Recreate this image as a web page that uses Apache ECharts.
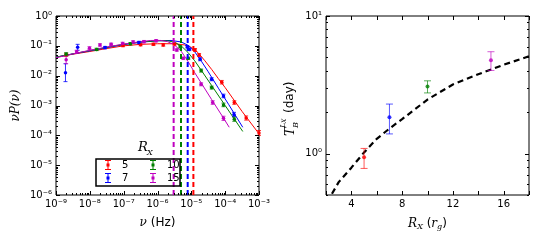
<!DOCTYPE html>
<html><head><meta charset="utf-8">
<script src="https://cdn.jsdelivr.net/npm/echarts@6/dist/echarts.min.js"></script>
<style>html,body{margin:0;padding:0;background:#fff}#c{width:540px;height:240px}</style>
</head><body><div id="c"></div>
<script>
// ---------- LEFT PANEL (values as log10) ----------
const legendNames = ['5', '7', '10', '15'];
const colors = ['#ff0000', '#0000ff', '#008000', '#bf00bf'];
const breakFreqs = [1.15e-5, 7.8e-6, 4.95e-6, 3.0e-6];

const redCurveLogNu = [-9, -8.5, -8, -7.5, -7, -6.5, -6, -5.5, -5.2, -5, -4.8, -4.6, -4.4, -4.2, -4, -3.5, -3];
const redCurveLogP  = [-1.38, -1.28, -1.19, -1.09, -1.00, -0.95, -0.93, -0.93, -0.97, -1.05, -1.23, -1.50, -1.79, -2.10, -2.40, -3.20, -3.95];
const blueCurveLogNu = [-9, -8.5, -8, -7.5, -7, -6.5, -6, -5.6, -5.3, -5.1, -4.9, -4.7, -4.5, -4.2, -3.9, -3.48];
const blueCurveLogP  = [-1.38, -1.27, -1.17, -1.06, -0.96, -0.88, -0.83, -0.82, -0.87, -0.98, -1.20, -1.52, -1.87, -2.42, -2.96, -3.73];
const greenCurveLogNu = [-9, -8.5, -8, -7.5, -7, -6.5, -6, -5.7, -5.5, -5.3, -5.1, -4.9, -4.7, -4.4, -4.0, -3.48];
const greenCurveLogP  = [-1.38, -1.27, -1.16, -1.05, -0.95, -0.87, -0.83, -0.83, -0.88, -1.00, -1.22, -1.50, -1.83, -2.33, -3.00, -3.87];
const magCurveLogNu = [-9, -8.5, -8, -7.5, -7, -6.5, -6.2, -5.9, -5.7, -5.5, -5.3, -5.1, -4.9, -4.7, -4.4, -4.1, -3.88];
const magCurveLogP  = [-1.40, -1.27, -1.15, -1.04, -0.94, -0.86, -0.82, -0.82, -0.86, -0.97, -1.18, -1.52, -1.90, -2.26, -2.80, -3.33, -3.73];

const redPtLogNu = [-8.70, -7.02, -6.50, -6.12, -5.83, -5.50, -4.89, -4.77, -4.10, -3.73, -3.38, -3.00];
const redPtLogP  = [-1.30, -0.99, -0.96, -0.95, -0.97, -0.94, -1.14, -1.31, -2.22, -2.90, -3.42, -3.92];
const redPtErr   = [0.05, 0.04, 0.04, 0.04, 0.04, 0.04, 0.05, 0.05, 0.06, 0.06, 0.07, 0.08];
const bluePtLogNu = [-8.72, -8.36, -7.55, -6.55, -5.12, -5.06, -4.74, -4.40, -4.05, -3.74];
const bluePtLogP  = [-1.90, -1.05, -1.06, -0.89, -1.03, -1.12, -1.45, -2.12, -2.68, -3.30];
const bluePtErr   = [0.30, 0.10, 0.04, 0.04, 0.04, 0.04, 0.05, 0.05, 0.06, 0.07];
const greenPtLogNu = [-8.70, -7.80, -6.80, -5.33, -5.09, -4.71, -4.40, -4.05, -3.73];
const greenPtLogP  = [-1.28, -1.12, -0.93, -1.03, -1.42, -1.83, -2.40, -2.98, -3.46];
const greenPtErr   = [0.05, 0.04, 0.04, 0.04, 0.04, 0.05, 0.05, 0.06, 0.07];
const magPtLogNu = [-8.70, -8.39, -8.01, -7.70, -7.37, -7.03, -6.72, -6.40, -6.04, -5.43, -5.24, -4.71, -4.37, -4.05];
const magPtLogP  = [-1.47, -1.20, -1.08, -0.97, -0.95, -0.92, -0.87, -0.86, -0.83, -1.14, -1.42, -2.29, -2.90, -3.43];
const magPtErr   = [0.13, 0.05, 0.05, 0.04, 0.04, 0.04, 0.04, 0.04, 0.04, 0.04, 0.04, 0.05, 0.06, 0.07];

// ---------- RIGHT PANEL ----------
const rx   = [5, 7, 10, 15];
const tb   = [0.94, 1.84, 3.07, 4.77];
const tbLo = [0.78, 1.39, 2.76, 4.02];
const tbHi = [1.09, 2.29, 3.38, 5.50];
const fitRx = [2.47, 3, 4, 5, 6, 7, 8, 10, 12, 14, 16, 18];
const fitTb = [0.51, 0.62, 0.79, 1.02, 1.28, 1.52, 1.78, 2.47, 3.18, 3.77, 4.42, 5.10];

// ---------- helpers ----------
const P = v => Math.pow(10, v);
const curves = [[redCurveLogNu, redCurveLogP], [blueCurveLogNu, blueCurveLogP], [greenCurveLogNu, greenCurveLogP], [magCurveLogNu, magCurveLogP]];
const pts = [[redPtLogNu, redPtLogP, redPtErr], [bluePtLogNu, bluePtLogP, bluePtErr], [greenPtLogNu, greenPtLogP, greenPtErr], [magPtLogNu, magPtLogP, magPtErr]];
const SUP = {'0':'⁰','1':'¹','2':'²','3':'³','4':'⁴','5':'⁵','6':'⁶','7':'⁷','8':'⁸','9':'⁹','-':'⁻'};
function powLabel(v) {
  const e = Math.log10(v);
  const r = Math.round(e);
  if (Math.abs(e - r) > 1e-6) return '';
  return '10' + String(r).split('').map(c => SUP[c]).join('');
}
const labelFont = {fontFamily: 'DejaVu Sans', fontSize: 10, color: '#000'};

function errRender(capHalf, alpha) {
  return function (params, api) {
    const x = api.value(0), lo = api.value(1), hi = api.value(2);
    const a = api.coord([x, hi]), b = api.coord([x, lo]);
    const st = {stroke: api.visual('color'), lineWidth: 1, opacity: alpha};
    return {type: 'group', children: [
      {type: 'line', shape: {x1: a[0], y1: a[1], x2: b[0], y2: b[1]}, style: st},
      {type: 'line', shape: {x1: a[0] - capHalf, y1: a[1], x2: a[0] + capHalf, y2: a[1]}, style: st},
      {type: 'line', shape: {x1: b[0] - capHalf, y1: b[1], x2: b[0] + capHalf, y2: b[1]}, style: st}
    ]};
  };
}
// tick marks (inside, on all four sides)
function tickRender(isX) {
  return function (params, api) {
    const cs = params.coordSys;
    const p = api.coord([api.value(0), api.value(1)]);
    const len = api.value(2);
    const st = {stroke: '#000', lineWidth: 1};
    if (isX) {
      const x = Math.round(p[0]) + 0.5;
      return {type: 'group', children: [
        {type: 'line', shape: {x1: x, y1: cs.y + cs.height, x2: x, y2: cs.y + cs.height - len}, style: st},
        {type: 'line', shape: {x1: x, y1: cs.y, x2: x, y2: cs.y + len}, style: st}]};
    }
    const y = Math.round(p[1]) + 0.5;
    return {type: 'group', children: [
      {type: 'line', shape: {x1: cs.x, y1: y, x2: cs.x + len, y2: y}, style: st},
      {type: 'line', shape: {x1: cs.x + cs.width, y1: y, x2: cs.x + cs.width - len, y2: y}, style: st}]};
  };
}
function logTicks(e0, e1, isX, ref) {
  const out = [];
  for (let e = e0; e <= e1; e++) {
    out.push(isX ? [P(e), ref, 4] : [ref, P(e), 4]);
    if (e < e1) for (let m = 2; m <= 9; m++) out.push(isX ? [m * P(e), ref, 2] : [ref, m * P(e), 2]);
  }
  return out;
}
const leftXT = logTicks(-9, -3, true, 0.01);
const leftYT = logTicks(-6, 0, false, 1e-6);
const rightYT = [];
[0.5, 0.6, 0.7, 0.8, 0.9, 2, 3, 4, 5, 6, 7, 8, 9].forEach(v => rightYT.push([10, v, 2]));
[1, 10].forEach(v => rightYT.push([10, v, 4]));
const rightXT = [];
for (let v = 2; v <= 18; v += 2) rightXT.push([v, 1, 4]);

const series = [];
curves.forEach((c, i) => {
  series.push({
    type: 'line', name: legendNames[i], xAxisIndex: 0, yAxisIndex: 0, showSymbol: false,
    data: c[0].map((x, k) => [P(x), P(c[1][k])]), lineStyle: {width: 1, color: colors[i]}, itemStyle: {color: colors[i]},
    z: 3
  });
});
// vertical dashed break-frequency lines
breakFreqs.forEach((f, i) => {
  series.push({
    type: 'line', xAxisIndex: 0, yAxisIndex: 0, showSymbol: false, silent: true,
    data: [[f, 1e-6], [f, 1]], lineStyle: {width: 2, color: colors[i], type: [5, 3]}, z: 6
  });
});
pts.forEach((p, i) => {
  series.push({
    type: 'custom', xAxisIndex: 0, yAxisIndex: 0, renderItem: errRender(2, 0.8), itemStyle: {color: colors[i]},
    data: p[0].map((x, k) => [P(x), P(p[1][k] - p[2][k]), P(p[1][k] + p[2][k])]), z: 4
  });
  series.push({
    type: 'scatter', name: legendNames[i], xAxisIndex: 0, yAxisIndex: 0, symbol: 'circle', symbolSize: 3.5,
    data: p[0].map((x, k) => [P(x), P(p[1][k])]), itemStyle: {color: colors[i], opacity: 1}, z: 5
  });
});
series.push({type: 'custom', xAxisIndex: 0, yAxisIndex: 0, renderItem: tickRender(true), data: leftXT, z: 10, silent: true});
series.push({type: 'custom', xAxisIndex: 0, yAxisIndex: 0, renderItem: tickRender(false), data: leftYT, z: 10, silent: true});
// right panel
series.push({type: 'line', xAxisIndex: 1, yAxisIndex: 1, showSymbol: false, data: fitRx.map((x, k) => [x, fitTb[k]]),
  lineStyle: {color: '#000', width: 2.2, type: [6, 4]}, z: 3});
series.push({type: 'custom', xAxisIndex: 1, yAxisIndex: 1, renderItem: errRender(3.5, 0.65),
  data: rx.map((x, k) => ({value: [x, tbLo[k], tbHi[k]], itemStyle: {color: colors[k]}})), z: 4});
series.push({type: 'scatter', xAxisIndex: 1, yAxisIndex: 1, symbolSize: 4,
  data: rx.map((x, k) => ({value: [x, tb[k]], itemStyle: {color: colors[k]}})), z: 5});
series.push({type: 'custom', xAxisIndex: 1, yAxisIndex: 1, renderItem: tickRender(true), data: rightXT, z: 10, silent: true});
series.push({type: 'custom', xAxisIndex: 1, yAxisIndex: 1, renderItem: tickRender(false), data: rightYT, z: 10, silent: true});

const icon = 'path://M0,0H6V1H0Z M2.5,1H3.5V9H2.5Z M0,9H6V10H0Z M1.5,3.5H4.5V6.5H1.5Z';
const legendCommon = {orient: 'vertical', itemWidth: 6, itemHeight: 10, itemGap: 3, padding: 0, z: 60,
  textStyle: {fontFamily: 'DejaVu Sans', fontSize: 10, color: '#000', padding: [0, 0, 0, 6]}, selectedMode: false};

const chart = echarts.init(document.getElementById('c'), null, {renderer: 'canvas'});
chart.setOption({
  animation: false,
  backgroundColor: '#fff',
  grid: [
    {left: 56, top: 16, width: 203, height: 179, show: true, borderColor: '#000', borderWidth: 1, backgroundColor: 'transparent'},
    {left: 326, top: 16, width: 203, height: 179, show: true, borderColor: '#000', borderWidth: 1, backgroundColor: 'transparent'}
  ],
  xAxis: [
    {type: 'log', gridIndex: 0, min: 1e-9, max: 1e-3, splitNumber: 6, splitLine: {show: false}, axisLine: {show: false}, axisTick: {show: false},
      axisLabel: Object.assign({formatter: powLabel, margin: 4}, labelFont),
      name: '{i|ν} (Hz)', nameLocation: 'middle', nameGap: 22,
      nameTextStyle: {fontFamily: 'DejaVu Sans', fontSize: 12, color: '#000', rich: {i: {fontFamily: 'DejaVu Serif', fontStyle: 'italic', fontSize: 12}}}},
    {type: 'value', gridIndex: 1, min: 2, max: 18, interval: 2, splitLine: {show: false}, axisLine: {show: false}, axisTick: {show: false},
      axisLabel: Object.assign({formatter: v => (v % 4 === 0 ? String(v) : ''), margin: 4}, labelFont),
      name: '{i|R}{s|X} ({i|r}{s|g})', nameLocation: 'middle', nameGap: 22,
      nameTextStyle: {fontFamily: 'DejaVu Sans', fontSize: 12, color: '#000',
        rich: {i: {fontFamily: 'DejaVu Serif', fontStyle: 'italic', fontSize: 12}, s: {fontFamily: 'DejaVu Serif', fontStyle: 'italic', fontSize: 8, padding: [6, 0, 0, 0]}}}}
  ],
  yAxis: [
    {type: 'log', gridIndex: 0, min: 1e-6, max: 1, splitNumber: 6, splitLine: {show: false}, axisLine: {show: false}, axisTick: {show: false},
      axisLabel: Object.assign({formatter: powLabel, margin: 4}, labelFont),
      name: 'νP(ν)', nameLocation: 'middle', nameGap: 34,
      nameTextStyle: {fontFamily: 'DejaVu Serif', fontStyle: 'italic', fontSize: 12, color: '#000'}},
    {type: 'log', gridIndex: 1, min: 0.5, max: 10, splitNumber: 2, splitLine: {show: false}, axisLine: {show: false}, axisTick: {show: false},
      axisLabel: Object.assign({formatter: powLabel, margin: 4, showMinLabel: false}, labelFont)}
  ],
  legend: [
    Object.assign({left: 105, top: 160, data: [{name: '5', icon: icon}, {name: '7', icon: icon}]}, legendCommon),
    Object.assign({left: 150, top: 160, data: [{name: '10', icon: icon}, {name: '15', icon: icon}]}, legendCommon)
  ],
  graphic: [
    {type: 'rect', shape: {x: 96, y: 159, width: 84, height: 27}, style: {fill: 'none', stroke: '#000', lineWidth: 1.5}, z: 50},
    {type: 'text', x: 138, y: 141, style: {text: 'R', font: 'italic 13px "DejaVu Serif"', fill: '#000'}, z: 100},
    {type: 'text', x: 147, y: 149, style: {text: 'X', font: 'italic 8px "DejaVu Serif"', fill: '#000'}, z: 100},
    {type: 'group', x: 291, y: 106, rotation: Math.PI / 2, z: 100, children: [
      {type: 'text', x: -30, y: -7, style: {text: 'T', font: 'italic 13px "DejaVu Serif"', fill: '#000'}},
      {type: 'text', x: -22, y: -12, style: {text: 'L', font: 'italic 8px "DejaVu Serif"', fill: '#000'}},
      {type: 'text', x: -17, y: -10, style: {text: 'X', font: 'italic 6px "DejaVu Serif"', fill: '#000'}},
      {type: 'text', x: -22, y: 1, style: {text: 'B', font: 'italic 8px "DejaVu Serif"', fill: '#000'}},
      {type: 'text', x: -7, y: -7, style: {text: '(day)', font: '12px "DejaVu Sans"', fill: '#000'}}
    ]}
  ],
  series: series
});
</script></body></html>
